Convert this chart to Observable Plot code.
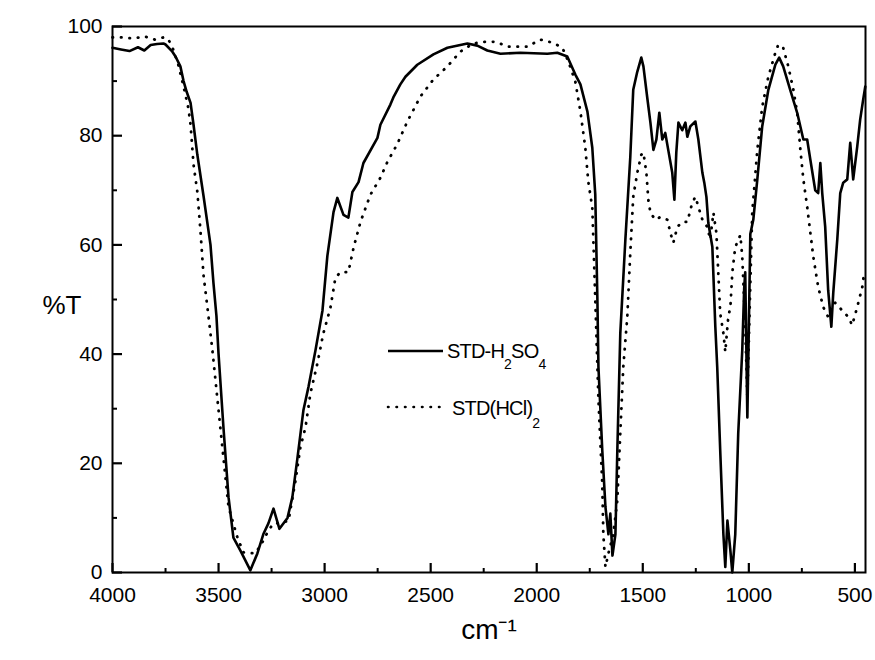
<!DOCTYPE html>
<html>
<head>
<meta charset="utf-8">
<script src="https://cdn.jsdelivr.net/npm/d3@7"></script>
<script src="https://cdn.jsdelivr.net/npm/@observablehq/plot@0.6"></script>
<style>
  body { margin: 0; background: #fff; }
  #chart svg { display: block; }
</style>
</head>
<body>
<div id="chart"></div>
<script>
// ---- data ----
const h2so4Wn = [4000,3960,3920,3880,3850,3820,3790,3760,3750,3720,3703,3680,3665,3650,3632,3618,3600,3571,3538,3524,3510,3500,3477,3453,3430,3397,3350,3317,3288,3265,3241,3213,3175,3152,3128,3100,3076,3043,3010,2987,2958,2940,2911,2888,2869,2840,2817,2751,2737,2690,2676,2643,2619,2563,2487,2421,2327,2280,2233,2171,2077,1950,1903,1856,1818,1794,1761,1738,1724,1714,1709,1691,1676,1662,1653,1643,1629,1620,1606,1582,1559,1545,1526,1507,1497,1479,1464,1450,1436,1422,1408,1394,1380,1361,1351,1342,1332,1314,1299,1290,1276,1252,1238,1219,1210,1200,1191,1172,1158,1149,1135,1120,1111,1101,1087,1078,1064,1050,1031,1022,1017,1007,1000,993,979,960,937,908,875,857,838,805,772,743,725,710,687,673,663,654,640,626,611,602,583,569,555,536,522,508,489,475,461,451];
const h2so4T  = [96.1,95.8,95.5,96.2,95.6,96.6,96.8,96.9,96.7,95.5,94.5,92.7,90,88,86,82,76.5,69,60,53,47,40,26.6,13.8,6.4,4,0.4,3.5,7.1,9,11.7,8,10,13.8,21,29.7,34,40.7,48,58,66,68.6,65.5,65,69.7,71.5,75,79.6,82,85.7,87,89.4,90.8,93,94.9,96.1,96.9,96.5,95.6,95,95.2,95,95.2,94.5,91.2,89.4,84.4,77.8,69.2,50,37.6,22.4,12,7,10.8,3.1,7,22.4,43.8,61,76,88.4,91.7,94.3,92.7,87,82.4,77.4,79.3,84.2,79.3,80.5,77.4,73.2,68.3,76.9,82.4,81,82.4,79.8,81.7,82.6,79.3,73.2,71.4,68.8,64,59.6,45,37.6,22.4,7,1,9.5,4,0,7,25.5,40.7,52,55,28.4,45,62,64.6,72,81.7,88.4,93,94.3,92.7,88.4,84.2,79.3,79.3,75.6,70,69.5,75,69.5,63.3,51.7,45,51.2,61,69.5,71.4,72,78.7,72,78,83,86.6,89];

const hclWn = [4000,3950,3900,3850,3800,3760,3740,3720,3690,3665,3642,3632,3618,3600,3585,3571,3552,3529,3505,3477,3453,3411,3383,3326,3288,3265,3241,3208,3170,3137,3114,3090,3067,3034,3006,2973,2949,2925,2888,2864,2831,2784,2737,2704,2657,2610,2548,2487,2421,2360,2299,2242,2195,2134,2044,1983,1922,1879,1851,1818,1794,1771,1757,1738,1724,1709,1691,1686,1676,1662,1639,1620,1606,1592,1573,1559,1545,1526,1507,1497,1483,1474,1464,1441,1417,1384,1370,1356,1337,1314,1290,1267,1252,1238,1219,1196,1182,1167,1153,1144,1135,1120,1111,1097,1087,1078,1064,1040,1031,1017,1007,995,984,960,937,908,875,861,838,814,790,772,757,743,725,710,696,673,649,626,593,560,531,513,489,465,456];
const hclT  = [98,98,97.8,98.2,97.6,98,97.8,96.5,93,89,85,82,74.7,69.7,62.4,54.5,48.4,40.7,31.6,21,12,6.4,3.7,3.5,5.9,7.7,9,9,9.5,16.9,23,26.6,32.8,38.3,43.8,48.4,54,55,55,59.4,64.2,69.2,72.3,75.2,78.5,82.6,87.2,90.3,92.7,95.4,96.9,97.2,97.2,96.3,96.3,97.6,97,96.1,93.6,89.9,84.4,77.8,71.6,66.8,50,31.6,16.3,7,1,3.5,7,13.2,25.5,37.6,46.8,58.5,68.8,73.2,76.5,76.9,73.2,68.3,65.9,64.6,65.1,64.6,62.2,60.4,63.3,64.2,64.2,67.7,68.8,67,64.6,63.3,61,65.9,62.2,54.9,47.5,43.8,40.4,46.8,48.6,54.9,59.6,61.8,57.8,45,32,50,65.9,77.4,85.3,90.8,95.2,96.7,96.1,92.7,88.4,84.2,77.4,72,67,62.2,57.8,52.3,48.6,46.8,49.4,48,46.8,45.3,48.6,52.3,54.9];

const xTicks = [4000,3500,3000,2500,2000,1500,1000,500];
const xMinorTicks = [3750,3250,2750,2250,1750,1250,750];
const yTicks = [0,20,40,60,80,100];
const yMinorTicks = [10,30,50,70,90];
const seriesNames = ["STD-H2SO4", "STD(HCl)2"];
const xLabel = "cm\u207B\u00B9";
const yLabel = "%T";

// ---- build tables ----
const h2so4 = h2so4Wn.map((x, i) => ({x, y: h2so4T[i]}));
const hcl = hclWn.map((x, i) => ({x, y: hclT[i]}));

const FONT = "'Liberation Sans', Arial, Helvetica, sans-serif";
const DOTS = "0.5,8";

const W = 875, H = 660, ML = 112, MR = 10, MT = 26, MB = 88;

function legend(index, scales, values, dims) {
  const ox = dims.marginLeft, oy = dims.marginTop;
  const g = d3.create("svg:g").attr("font-family", FONT).attr("text-anchor", "start");
  g.append("line").attr("x1", ox + 276).attr("x2", ox + 331).attr("y1", oy + 325).attr("y2", oy + 325)
    .attr("stroke", "#000").attr("stroke-width", 2.6);
  const t1 = g.append("text").attr("x", ox + 335).attr("y", oy + 332).attr("font-size", 20).attr("letter-spacing", -0.8).attr("fill", "#000");
  t1.append("tspan").text(seriesNames[0].slice(0, 5));
  t1.append("tspan").attr("dy", 11).attr("font-size", 14).text(seriesNames[0].slice(5, 6));
  t1.append("tspan").attr("dy", -11).text(seriesNames[0].slice(6, 8));
  t1.append("tspan").attr("dy", 11).attr("font-size", 14).text(seriesNames[0].slice(8));
  g.append("line").attr("x1", ox + 276).attr("x2", ox + 328).attr("y1", oy + 381).attr("y2", oy + 381)
    .attr("stroke", "#000").attr("stroke-width", 2.6).attr("stroke-dasharray", DOTS).attr("stroke-linecap", "round");
  const t2 = g.append("text").attr("x", ox + 340).attr("y", oy + 389).attr("font-size", 20).attr("letter-spacing", -0.8).attr("fill", "#000");
  t2.append("tspan").text(seriesNames[1].slice(0, 8));
  t2.append("tspan").attr("dy", 13).attr("font-size", 14).text(seriesNames[1].slice(8));
  return g.node();
}

const chart = Plot.plot({
  width: W,
  height: H,
  marginLeft: ML,
  marginRight: MR,
  marginTop: MT,
  marginBottom: MB,
  style: {fontFamily: FONT, background: "#fff", color: "#000", overflow: "visible"},
  x: {domain: [4000, 450]},
  y: {domain: [0, 100]},
  marks: [
    // tick labels
    Plot.axisX(xTicks, {tickSize: 0, tickPadding: 15, fontSize: 21, label: null, tickFormat: d => String(d)}),
    Plot.axisY(yTicks, {tickSize: 0, tickPadding: 10, fontSize: 21, label: null, tickFormat: d => String(d)}),
    // inward ticks (negative tick size points into the frame)
    Plot.axisX(xTicks, {tickSize: -9, text: null, stroke: "#000", strokeWidth: 2.2, label: null}),
    Plot.axisX(xMinorTicks, {tickSize: -4, text: null, stroke: "#000", strokeWidth: 2, label: null}),
    Plot.axisY(yTicks, {tickSize: -10, text: null, stroke: "#000", strokeWidth: 2.2, label: null}),
    Plot.axisY(yMinorTicks, {tickSize: -5, text: null, stroke: "#000", strokeWidth: 2, label: null}),
    Plot.line(h2so4, {x: "x", y: "y", stroke: "#000", strokeWidth: 2.6, strokeLinejoin: "round"}),
    Plot.line(hcl, {x: "x", y: "y", stroke: "#000", strokeWidth: 2.8, strokeDasharray: DOTS, strokeLinecap: "round"}),
    Plot.frame({stroke: "#000", strokeWidth: 2}),
    Plot.text([xLabel], {frameAnchor: "bottom", dy: 66, text: d => d, fontSize: 28, fill: "#000"}),
    Plot.text([yLabel], {frameAnchor: "left", dx: -70, dy: 6, text: d => d, fontSize: 26, fill: "#000"}),
    legend
  ]
});
document.getElementById("chart").appendChild(chart);
</script>
</body>
</html>
